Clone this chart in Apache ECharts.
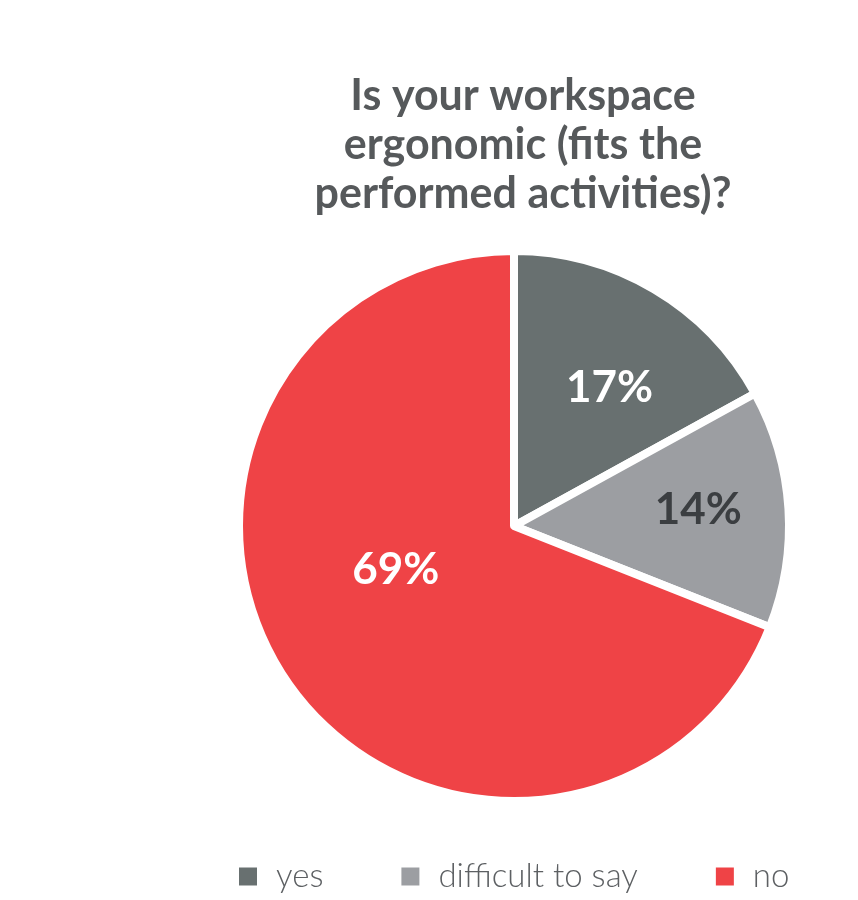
<!DOCTYPE html>
<html>
<head>
<meta charset="utf-8">
<script src="https://cdn.jsdelivr.net/npm/echarts@6/dist/echarts.min.js"></script>
<style>
  html, body { margin: 0; padding: 0; background: #ffffff; }
  #chart { width: 858px; height: 900px; }
</style>
</head>
<body>
<div id="chart"></div>
<script>
// Survey answers, share of respondents (%)
const categories = ['yes', 'difficult to say', 'no'];
const shares = [17, 14, 69];
const sliceColors = ['#687070', '#9c9ea2', '#ef4346'];
const labelColors = ['#ffffff', '#3b3e41', '#ffffff'];
// nudges of the percentage labels away from the default inside spot
const labelShift = [[24, -17], [44, -7], [-2, -35]];

const chart = echarts.init(document.getElementById('chart'), null, { renderer: 'canvas' });

chart.setOption({
  backgroundColor: '#ffffff',
  animation: false,
  title: {
    text: 'Is your workspace\nergonomic (fits the\nperformed activities)?',
    left: 518,
    top: 67,
    textAlign: 'center',
    textStyle: {
      fontFamily: 'Lato',
      fontWeight: 'bold',
      fontSize: 43,
      lineHeight: 49,
      color: '#56595b'
    }
  },
  legend: {
    top: 860,
    left: 237,
    padding: 0,
    itemWidth: 20,
    itemHeight: 20,
    itemGap: 76,
    icon: 'rect',
    data: categories,
    textStyle: {
      fontFamily: 'Lato',
      fontWeight: 300,
      fontSize: 33,
      color: '#5d6063',
      padding: [0, 0, 0, 13]
    }
  },
  series: [{
    type: 'pie',
    center: [514, 526],
    radius: [0, 275],
    startAngle: 90,
    clockwise: true,
    avoidLabelOverlap: false,
    itemStyle: { borderColor: '#ffffff', borderWidth: 8 },
    label: {
      show: true,
      position: 'inside',
      formatter: '{c}%',
      fontFamily: 'Lato',
      fontWeight: 'bold',
      fontSize: 44
    },
    labelLine: { show: false },
    labelLayout: function (p) {
      return { dx: labelShift[p.dataIndex][0], dy: labelShift[p.dataIndex][1] };
    },
    emphasis: { disabled: true },
    data: categories.map(function (name, i) {
      return {
        name: name,
        value: shares[i],
        itemStyle: { color: sliceColors[i] },
        label: { color: labelColors[i] }
      };
    })
  }]
});
</script>
</body>
</html>
